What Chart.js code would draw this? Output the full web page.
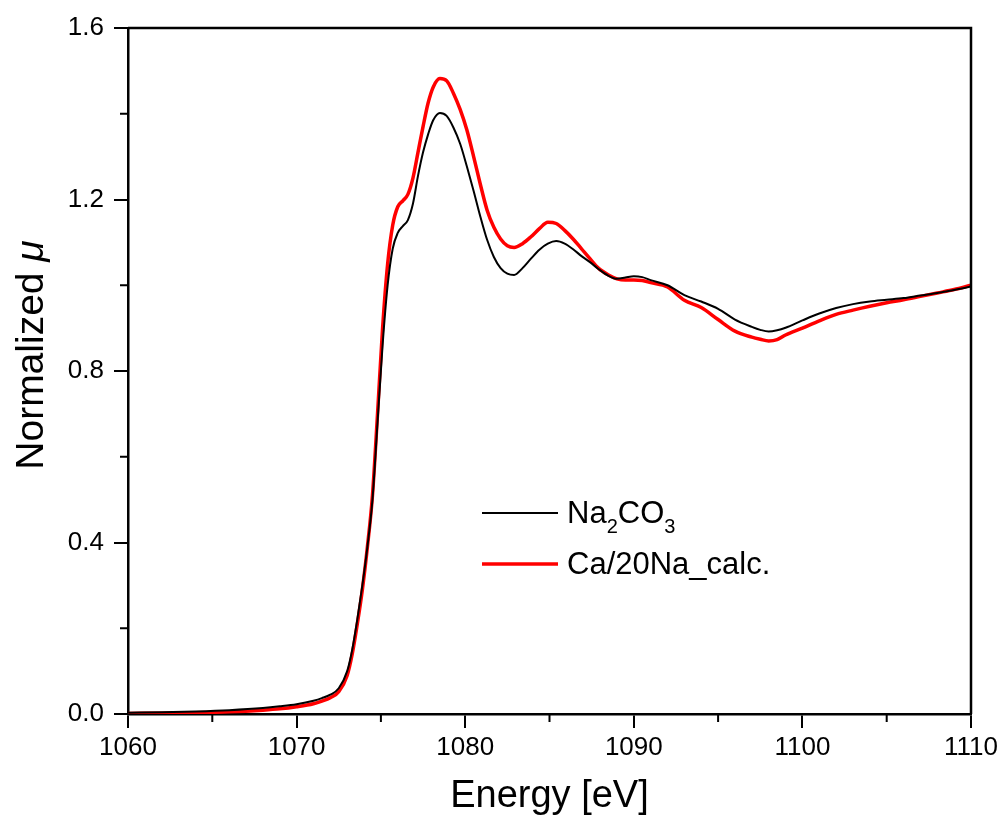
<!DOCTYPE html>
<html>
<head>
<meta charset="utf-8">
<script src="https://cdn.jsdelivr.net/npm/chart.js@4/dist/chart.umd.min.js"></script>
<style>
  body { margin: 0; background: #fff; }
  canvas { display: block; }
</style>
</head>
<body>
<canvas id="chartArea" width="1007" height="821"></canvas>
<script>
'use strict'

// energy grid [eV]
const energy = [1060, 1062, 1064, 1066, 1068, 1069, 1070, 1071, 1071.5, 1072, 1072.5, 1073, 1073.3, 1073.6, 1073.9,
    1074.2, 1074.5, 1074.8, 1075.1, 1075.4, 1075.7, 1076.0, 1076.3, 1076.6, 1076.9, 1077.2, 1077.5, 1077.8, 1078.1,
    1078.5, 1078.9, 1079.3, 1079.7, 1080.1, 1080.5, 1080.9, 1081.3, 1081.7, 1082.1, 1082.5, 1082.9, 1083.4, 1083.9,
    1084.4, 1084.9, 1085.4, 1085.9, 1086.4, 1086.9, 1087.4, 1087.9, 1088.5, 1089, 1089.5, 1090, 1090.5, 1091, 1092,
    1093, 1094, 1095, 1096, 1097, 1097.5, 1098, 1098.5, 1099, 1100, 1101, 1102, 1103, 1104, 1105, 1106, 1107, 1108,
    1109, 1110];

// Na2CO3 reference
const na2co3 = [0.003, 0.004, 0.006, 0.009, 0.014, 0.018, 0.023, 0.031, 0.037, 0.045, 0.06, 0.10, 0.15, 0.22, 0.30,
    0.39, 0.50, 0.68, 0.86, 1.0, 1.085, 1.122, 1.138, 1.152, 1.19, 1.255, 1.31, 1.352, 1.385,
    1.402, 1.395, 1.368, 1.33, 1.277, 1.22, 1.16, 1.106, 1.066, 1.04, 1.027, 1.024, 1.04, 1.062,
    1.083, 1.097, 1.103, 1.097, 1.084, 1.068, 1.054, 1.038, 1.022, 1.015, 1.018, 1.021, 1.019, 1.012, 1.0,
    0.977, 0.962, 0.945, 0.92, 0.903, 0.896, 0.892, 0.895, 0.901, 0.918, 0.934, 0.947, 0.956, 0.962, 0.966, 0.970, 0.976, 0.982,
    0.989, 0.997];

// Ca/20Na calculated
const caCalc = [0.001, 0.002, 0.003, 0.005, 0.009, 0.012, 0.017, 0.024, 0.03, 0.038, 0.052, 0.09, 0.14, 0.21, 0.29,
    0.39, 0.51, 0.70, 0.90, 1.05, 1.14, 1.183, 1.197, 1.212, 1.25, 1.31, 1.37, 1.425, 1.462,
    1.482, 1.477, 1.448, 1.41, 1.362, 1.30, 1.235, 1.175, 1.135, 1.108, 1.092, 1.088, 1.097, 1.113,
    1.132, 1.147, 1.144, 1.128, 1.108, 1.085, 1.062, 1.04, 1.024, 1.015, 1.012, 1.012, 1.011, 1.006, 0.996,
    0.965, 0.948, 0.92, 0.893, 0.879, 0.874, 0.870, 0.873, 0.884, 0.900, 0.917, 0.932, 0.942, 0.951, 0.959, 0.966, 0.974, 0.982,
    0.99, 1.0];

const xMinorTicks = [1065, 1075, 1085, 1095, 1105];
const yMinorTicks = [0.2, 0.6, 1.0, 1.4];

const FONT = '"Liberation Sans", Arial, sans-serif';

function toPoints(xs, ys) {
    let pts = [];
    for (let i = 0; i < xs.length; i++) {
        pts.push({x: xs[i], y: ys[i]});
    }
    return pts;
}

// frame, minor ticks, y title with italic mu, legend with subscripts
const decorPlugin = {
    id: 'decor',
    afterDraw(chart) {
        const ctx = chart.ctx;
        const a = chart.chartArea;
        const xs = chart.scales.x;
        const ys = chart.scales.y;
        ctx.save();
        ctx.strokeStyle = '#000';
        ctx.lineWidth = 2.5;
        ctx.beginPath();
        ctx.moveTo(a.left, a.top);
        ctx.lineTo(a.right, a.top);
        ctx.lineTo(a.right, a.bottom);
        ctx.stroke();

        ctx.lineWidth = 2;
        ctx.beginPath();
        for (let v of xMinorTicks) {
            let px = xs.getPixelForValue(v);
            ctx.moveTo(px, a.bottom);
            ctx.lineTo(px, a.bottom + 8);
        }
        for (let v of yMinorTicks) {
            let py = ys.getPixelForValue(v);
            ctx.moveTo(a.left, py);
            ctx.lineTo(a.left - 8, py);
        }
        ctx.stroke();

        // y axis title
        ctx.fillStyle = '#000';
        ctx.translate(43, 355);
        ctx.rotate(-Math.PI / 2);
        ctx.textBaseline = 'alphabetic';
        ctx.font = '39px ' + FONT;
        let w1 = ctx.measureText('Normalized ').width;
        ctx.font = 'italic 39px ' + FONT;
        let w2 = ctx.measureText('\u03bc').width;
        let x0 = -(w1 + w2) / 2;
        ctx.font = '39px ' + FONT;
        ctx.fillText('Normalized ', x0, 0);
        ctx.font = 'italic 39px ' + FONT;
        ctx.fillText('\u03bc', x0 + w1, 0);
        ctx.restore();

        // legend
        ctx.save();
        ctx.lineWidth = 2;
        ctx.strokeStyle = '#000';
        ctx.beginPath();
        ctx.moveTo(482, 513);
        ctx.lineTo(558, 513);
        ctx.stroke();
        ctx.lineWidth = 3.5;
        ctx.strokeStyle = '#ff0000';
        ctx.beginPath();
        ctx.moveTo(482, 564);
        ctx.lineTo(558, 564);
        ctx.stroke();

        ctx.fillStyle = '#000';
        ctx.textBaseline = 'alphabetic';
        let parts = [['Na', 0], ['2', 1], ['CO', 0], ['3', 1]];
        let x = 567;
        for (let p of parts) {
            ctx.font = (p[1] ? '20px ' : '31px ') + FONT;
            ctx.fillText(p[0], x, p[1] ? 533 : 523);
            x += ctx.measureText(p[0]).width;
        }
        ctx.font = '31px ' + FONT;
        ctx.fillText('Ca/20Na_calc.', 567, 574);
        ctx.restore();
    }
};

let ctx = document.getElementById('chartArea').getContext('2d');
let chart = new Chart(ctx, {
    type: 'line',
    data: {
        datasets: [{
            label: 'Na2CO3',
            data: toPoints(energy, na2co3),
            borderColor: '#000000',
            borderWidth: 2,
            pointRadius: 0,
            cubicInterpolationMode: 'monotone'
        }, {
            label: 'Ca/20Na_calc.',
            data: toPoints(energy, caCalc),
            borderColor: '#ff0000',
            borderWidth: 3.5,
            pointRadius: 0,
            cubicInterpolationMode: 'monotone'
        }]
    },
    options: {
        responsive: false,
        animation: false,
        layout: {
            padding: {left: 0, top: 28, right: 36, bottom: 0}
        },
        plugins: {
            legend: {display: false},
            tooltip: {enabled: false}
        },
        scales: {
            x: {
                type: 'linear',
                min: 1060,
                max: 1110,
                afterFit: function(scale) { scale.height = 107; },
                border: {display: true, color: '#000', width: 2.5},
                grid: {drawOnChartArea: false, drawTicks: true, tickLength: 14, color: '#000', lineWidth: 2},
                ticks: {
                    stepSize: 10,
                    autoSkip: false,
                    maxRotation: 0,
                    padding: 4,
                    color: '#000',
                    font: {family: FONT, size: 26},
                    callback: function(v) { return String(v); }
                },
                title: {
                    display: true,
                    text: 'Energy [eV]',
                    color: '#000',
                    font: {family: FONT, size: 38},
                    padding: {top: 0, bottom: 2}
                }
            },
            y: {
                min: 0,
                max: 1.6,
                afterFit: function(scale) { scale.width = 128; },
                border: {display: true, color: '#000', width: 2.5},
                grid: {drawOnChartArea: false, drawTicks: true, tickLength: 14, color: '#000', lineWidth: 2},
                ticks: {
                    stepSize: 0.4,
                    padding: 10,
                    color: '#000',
                    font: {family: FONT, size: 26},
                    callback: function(v) { return v.toFixed(1); }
                }
            }
        }
    },
    plugins: [decorPlugin]
});
</script>
</body>
</html>
